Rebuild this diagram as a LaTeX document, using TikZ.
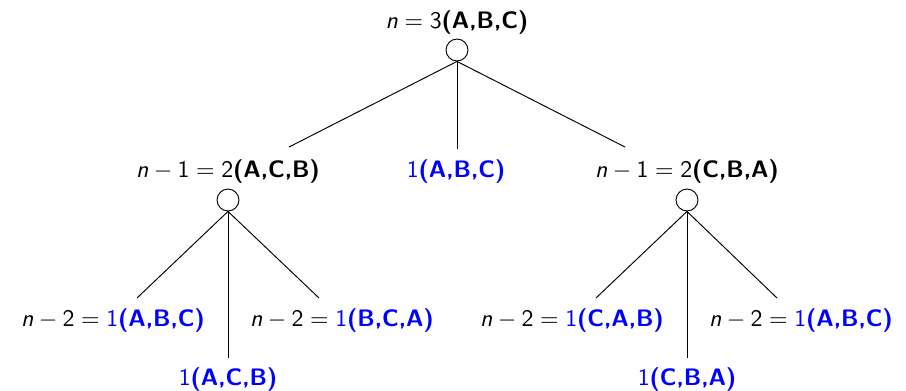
\documentclass[tikz,border=0pt]{standalone}
\usepackage{xcolor}
\usepackage{tikz}
\usetikzlibrary{positioning}

\newcommand{\nv}{\textit{n}}

\begin{document}
\begin{tikzpicture}[
        x=0.42pt, y=-0.42pt,
        state/.style={draw, circle, inner sep=0pt, minimum size=9.2pt},
        lbl/.style={font=\sffamily, inner sep=0pt},
        leaf/.style={lbl, text=blue},
    ]
    \useasboundingbox (0,0) rectangle (906,390);

    % Root
    \node[state] (root) at (457,50) {};
    \node[lbl] (rootlbl) at (457,23) {\nv${}={}$3\textbf{(A,B,C)}};

    % Level one
    \node[state] (left) at (228,200) {};
    \node[state] (right) at (687,200) {};
    \node[lbl] (leftlbl) at (228,172) {\nv${}-{}$1${}={}$2\textbf{(A,C,B)}};
    \node[leaf] (midlbl) at (456,172) {1\textbf{(A,B,C)}};
    \node[lbl] (rightlbl) at (687,172) {\nv${}-{}$1${}={}$2\textbf{(C,B,A)}};

    \coordinate (r1) at (289,147);
    \coordinate (r2) at (457,149);
    \coordinate (r3) at (625,147);
    \draw (root.south) -- (r1);
    \draw (root.south) -- (r2);
    \draw (root.south) -- (r3);

    % Leaves under left
    \node[lbl] (ll) at (113,321) {\nv${}-{}$2${}={}$\textcolor{blue}{1\textbf{(A,B,C)}}};
    \node[leaf] (lm) at (228,380) {1\textbf{(A,C,B)}};
    \node[lbl] (lr) at (342,321) {\nv${}-{}$2${}={}$\textcolor{blue}{1\textbf{(B,C,A)}}};
    \coordinate (l1) at (137,298);
    \coordinate (l2) at (228,358);
    \coordinate (l3) at (319,298);
    \draw (left.south) -- (l1);
    \draw (left.south) -- (l2);
    \draw (left.south) -- (l3);

    % Leaves under right
    \node[lbl] (rl) at (572,321) {\nv${}-{}$2${}={}$\textcolor{blue}{1\textbf{(C,A,B)}}};
    \node[leaf] (rm) at (687,380) {1\textbf{(C,B,A)}};
    \node[lbl] (rr) at (801,321) {\nv${}-{}$2${}={}$\textcolor{blue}{1\textbf{(A,B,C)}}};
    \coordinate (q1) at (596,298);
    \coordinate (q2) at (687,358);
    \coordinate (q3) at (777,298);
    \draw (right.south) -- (q1);
    \draw (right.south) -- (q2);
    \draw (right.south) -- (q3);
\end{tikzpicture}
\end{document}
